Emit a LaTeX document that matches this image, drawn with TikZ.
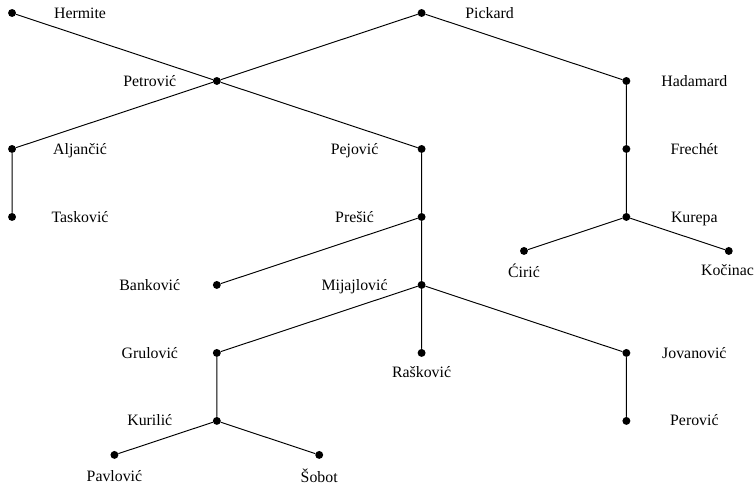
\documentclass[tikz,border=0pt]{standalone}
\usepackage{fontspec}
\setmainfont{Liberation Serif}
\begin{document}
\begin{tikzpicture}[x=2.271cm,y=-0.754cm,line width=0.6pt,line cap=round,
  dot/.style={circle,fill,inner sep=0pt,minimum size=5pt},
  who/.style={anchor=base,inner sep=0pt}]
\useasboundingbox (-7.6pt,8.2pt) rectangle (469.5pt,-298.5pt);
% people
\node[dot] (hermite) at (0,0) {};
\node[dot] (pickard) at (4,0) {};
\node[dot] (petrovic) at (2,2) {};
\node[dot] (hadamard) at (6,2) {};
\node[dot] (aljancic) at (0,4) {};
\node[dot] (pejovic) at (4,4) {};
\node[dot] (frechet) at (6,4) {};
\node[dot] (taskovic) at (0,6) {};
\node[dot] (presic) at (4,6) {};
\node[dot] (kurepa) at (6,6) {};
\node[dot] (ciric) at (5,7) {};
\node[dot] (kocinac) at (7,7) {};
\node[dot] (bankovic) at (2,8) {};
\node[dot] (mijajlovic) at (4,8) {};
\node[dot] (grulovic) at (2,10) {};
\node[dot] (raskovic) at (4,10) {};
\node[dot] (jovanovic) at (6,10) {};
\node[dot] (kurilic) at (2,12) {};
\node[dot] (perovic) at (6,12) {};
\node[dot] (pavlovic) at (1,13) {};
\node[dot] (sobot) at (3,13) {};
% names, right
\node[who] (hermite-n) at ([xshift=42.9pt,yshift=-3.2pt]hermite) {Hermite};
\node[who] (pickard-n) at ([xshift=42.9pt,yshift=-3.2pt]pickard) {Pickard};
\node[who] (hadamard-n) at ([xshift=42.9pt,yshift=-3.2pt]hadamard) {Hadamard};
\node[who] (aljancic-n) at ([xshift=42.9pt,yshift=-3.2pt]aljancic) {Aljančić};
\node[who] (frechet-n) at ([xshift=42.9pt,yshift=-3.2pt]frechet) {Frechét};
\node[who] (taskovic-n) at ([xshift=42.9pt,yshift=-3.2pt]taskovic) {Tasković};
\node[who] (kurepa-n) at ([xshift=42.9pt,yshift=-3.2pt]kurepa) {Kurepa};
\node[who] (jovanovic-n) at ([xshift=42.9pt,yshift=-3.2pt]jovanovic) {Jovanović};
\node[who] (perovic-n) at ([xshift=42.9pt,yshift=-3.2pt]perovic) {Perović};
% names, left
\node[who] (petrovic-n) at ([xshift=-42.3pt,yshift=-3.2pt]petrovic) {Petrović};
\node[who] (pejovic-n) at ([xshift=-42.3pt,yshift=-3.2pt]pejovic) {Pejović};
\node[who] (presic-n) at ([xshift=-42.3pt,yshift=-3.2pt]presic) {Prešić};
\node[who] (bankovic-n) at ([xshift=-42.3pt,yshift=-3.2pt]bankovic) {Banković};
\node[who] (mijajlovic-n) at ([xshift=-42.3pt,yshift=-3.2pt]mijajlovic) {Mijajlović};
\node[who] (grulovic-n) at ([xshift=-42.3pt,yshift=-3.2pt]grulovic) {Grulović};
\node[who] (kurilic-n) at ([xshift=-42.3pt,yshift=-3.2pt]kurilic) {Kurilić};
% names, below
\node[who] (ciric-n) at ([yshift=-16.6pt]ciric) {Ćirić};
\node[who] (kocinac-n) at ([xshift=-0.8pt,yshift=-15.8pt]kocinac) {Kočinac};
\node[who] (raskovic-n) at ([yshift=-15.8pt]raskovic) {Rašković};
\node[who] (pavlovic-n) at ([yshift=-16.6pt]pavlovic) {Pavlović};
\node[who] (sobot-n) at ([yshift=-17.6pt]sobot) {Šobot};
% lines
\draw (hermite) -- (petrovic) -- (pejovic) -- (presic) -- (mijajlovic) -- (raskovic);
\draw (pickard) -- (petrovic) -- (aljancic) -- (taskovic);
\draw (pickard) -- (hadamard) -- (frechet) -- (kurepa);
\draw (kurepa) -- (ciric);
\draw (kurepa) -- (kocinac);
\draw (presic) -- (bankovic);
\draw (mijajlovic) -- (grulovic) -- (kurilic);
\draw (mijajlovic) -- (jovanovic) -- (perovic);
\draw (kurilic) -- (pavlovic);
\draw (kurilic) -- (sobot);
\end{tikzpicture}
\end{document}
